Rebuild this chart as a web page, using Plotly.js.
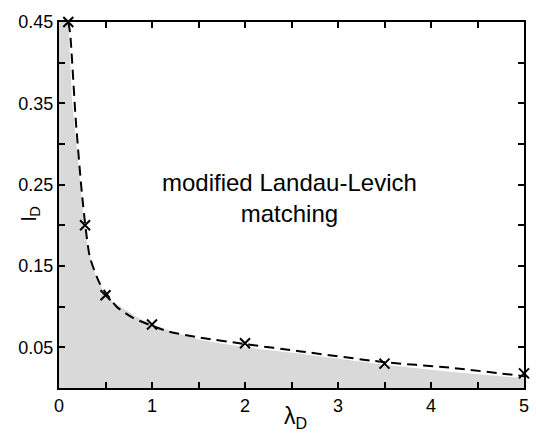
<!DOCTYPE html>
<html>
<head>
<meta charset="utf-8">
<script src="https://cdn.plot.ly/plotly-3.0.1.min.js"></script>
<style>html,body{margin:0;padding:0;background:#fff;}#chart{width:536px;height:433px;}</style>
</head>
<body>
<div id="chart"></div>
<script>
// Measured data points (crosses)
var pointsX = [0.1, 0.28, 0.5, 1.0, 2.0, 3.5, 5.0];
var pointsY = [0.45, 0.200, 0.114, 0.078, 0.055, 0.030, 0.018];

// Dashed fit curve
var curveX = [0.1, 0.12, 0.18, 0.25, 0.33, 0.44, 0.62, 0.8, 1.16, 1.52, 2.0, 2.6, 3.48, 4.2, 5.0];
var curveY = [0.45, 0.436, 0.33, 0.235, 0.162, 0.128, 0.100, 0.086, 0.070, 0.062, 0.054, 0.045, 0.032, 0.025, 0.0145];

// Shaded region boundary
var fillX = [0, 0.1, 0.14, 0.23, 0.26, 0.31, 0.41, 0.55, 0.87, 1.19, 1.52, 2.0, 2.6, 3.48, 4.2, 5.0];
var fillY = [0.45, 0.45, 0.354, 0.25, 0.215, 0.17, 0.132, 0.108, 0.085, 0.070, 0.059, 0.050, 0.042, 0.029, 0.020, 0.012];

var xTickVals = [0, 0.5, 1, 1.5, 2, 2.5, 3, 3.5, 4, 4.5, 5];
var xTickText = ['0', '', '1', '', '2', '', '3', '', '4', '', '5'];
var yTickVals = [0.05, 0.1, 0.15, 0.2, 0.25, 0.3, 0.35, 0.4, 0.45];
var yTickText = ['0.05', '', '0.15', '', '0.25', '', '0.35', '', '0.45'];

var annotationText = 'modified Landau-Levich<br>matching';
var xLabel = 'λ<sub>D</sub>';
var yLabel = 'l<sub>D</sub>';

var traces = [
  {x: fillX, y: fillY, type: 'scatter', mode: 'lines', fill: 'tozeroy',
   fillcolor: '#d9d9d9', line: {width: 0, color: 'rgba(0,0,0,0)'}, hoverinfo: 'skip'},
  {x: curveX, y: curveY, type: 'scatter', mode: 'lines', line: {shape: 'spline', smoothing: 0.6, color: '#000', width: 2, dash: '10px,6px'}},
  {x: pointsX, y: pointsY, type: 'scatter', mode: 'markers', cliponaxis: false,
   marker: {symbol: 'x-thin', size: 10, line: {width: 2, color: '#000'}, color: '#000'}}
];

var fam = 'Liberation Sans, Arial, sans-serif';
var axisFont = {family: fam, size: 18, color: '#000'};

var layout = {
  width: 536, height: 433,
  margin: {l: 59, r: 12, t: 22, b: 45},
  paper_bgcolor: '#fff', plot_bgcolor: '#fff',
  showlegend: false,
  font: axisFont,
  xaxis: {range: [0, 5], tickvals: xTickVals, ticktext: xTickText, ticks: 'inside', ticklen: 6, tickwidth: 2,
          tickcolor: '#000', showline: true, linewidth: 2, linecolor: '#000', mirror: 'ticks',
          showgrid: false, zeroline: false, tickfont: axisFont},
  yaxis: {range: [0, 0.45], tickvals: yTickVals, ticktext: yTickText, ticks: 'inside', ticklen: 6, tickwidth: 2,
          tickcolor: '#000', showline: true, linewidth: 2, linecolor: '#000', mirror: 'ticks',
          showgrid: false, zeroline: false, tickfont: axisFont},
  annotations: [
    {x: 2.48, y: 0.233, xref: 'x', yref: 'y', text: annotationText, showarrow: false,
     font: {family: fam, size: 24, color: '#000'}},
    {x: 0.508, y: -0.035, xref: 'paper', yref: 'paper', xanchor: 'center', yanchor: 'top',
     text: xLabel, showarrow: false, font: {family: fam, size: 23, color: '#000'}},
    {x: -0.062, y: 0.475, xref: 'paper', yref: 'paper', xanchor: 'center', yanchor: 'middle', textangle: -90,
     text: yLabel, showarrow: false, font: {family: fam, size: 21, color: '#000'}}
  ]
};

Plotly.newPlot('chart', traces, layout, {staticPlot: true, displayModeBar: false});
</script>
</body>
</html>
